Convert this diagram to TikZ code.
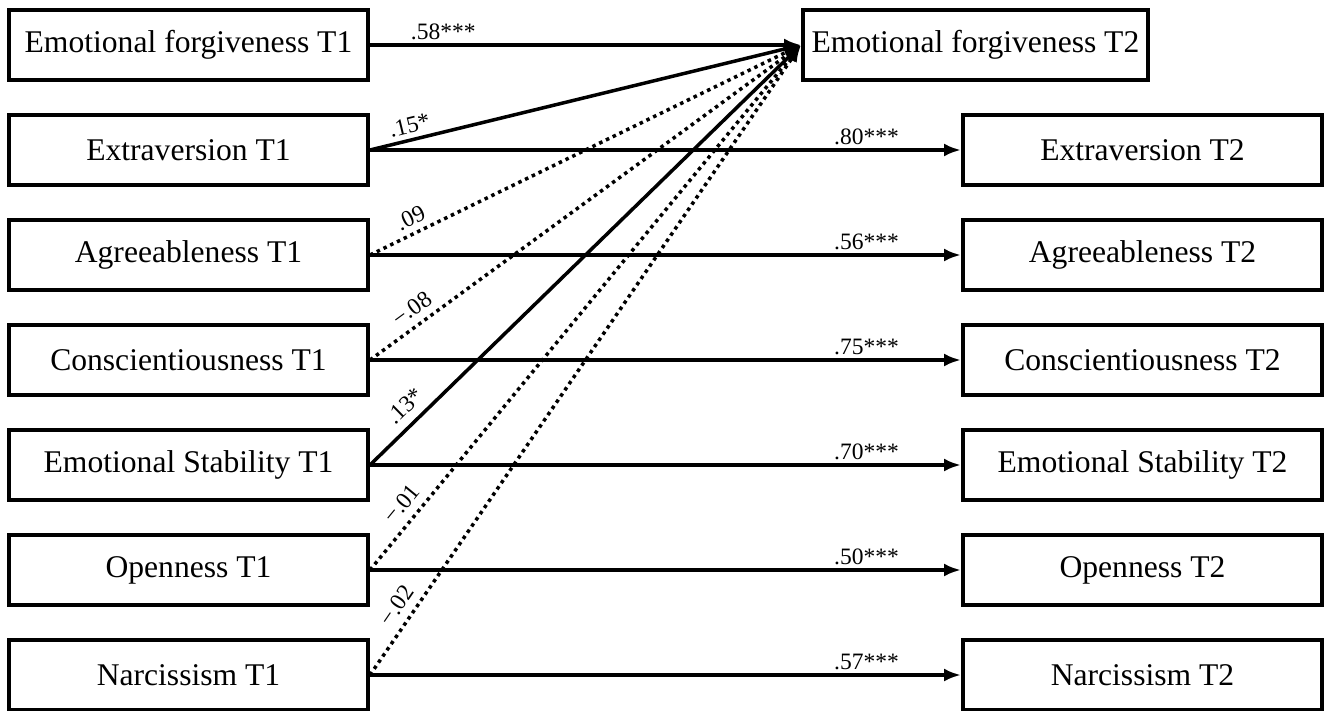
\documentclass[tikz,border=0pt]{standalone}
\usepackage{fontspec}
\setmainfont{Liberation Serif}
\usetikzlibrary{arrows.meta}
\begin{document}
\begin{tikzpicture}[x=1pt,y=-1pt,
  box/.style={draw,line width=4pt,minimum width=359pt,minimum height=70pt,inner sep=0pt,font=\fontsize{31.6}{36}\selectfont},
  path/.style={line width=3.5pt,-{Latex[length=17pt,width=13pt]}},
  ns/.style={line width=3.5pt,dash pattern=on 3.5pt off 4pt,-{Latex[length=17pt,width=13pt]}},
  lab/.style={font=\fontsize{23.5}{26}\selectfont,inner sep=3pt}]
\useasboundingbox (0,0) rectangle (1325,711);
\node[box] (ef1) at (188.5,45) {Emotional forgiveness T1};
\node[box] (ex1) at (188.5,150) {Extraversion T1};
\node[box] (ag1) at (188.5,255) {Agreeableness T1};
\node[box] (co1) at (188.5,360) {Conscientiousness T1};
\node[box] (es1) at (188.5,465) {Emotional Stability T1};
\node[box] (op1) at (188.5,570) {Openness T1};
\node[box] (na1) at (188.5,675) {Narcissism T1};
\node[box,minimum width=345pt] (ef2) at (975.5,45) {Emotional forgiveness T2};
\node[box] (ex2) at (1142.5,150) {Extraversion T2};
\node[box] (ag2) at (1142.5,255) {Agreeableness T2};
\node[box] (co2) at (1142.5,360) {Conscientiousness T2};
\node[box] (es2) at (1142.5,465) {Emotional Stability T2};
\node[box] (op2) at (1142.5,570) {Openness T2};
\node[box] (na2) at (1142.5,675) {Narcissism T2};
% autoregressive paths
\draw[path] (ef1) -- node[lab,pos=0.17,above] {.58***} (ef2);
\draw[path] (ex1) -- node[lab,pos=0.84,above] {.80***} (ex2);
\draw[path] (ag1) -- node[lab,pos=0.84,above] {.56***} (ag2);
\draw[path] (co1) -- node[lab,pos=0.84,above] {.75***} (co2);
\draw[path] (es1) -- node[lab,pos=0.84,above] {.70***} (es2);
\draw[path] (op1) -- node[lab,pos=0.84,above] {.50***} (op2);
\draw[path] (na1) -- node[lab,pos=0.84,above] {.57***} (na2);
% cross-lagged paths
\draw[path] (ex1.east) -- node[lab,pos=0.1,above=2pt,sloped] {.15*} (ef2.west);
\draw[ns] (ag1.east) -- node[lab,pos=0.11,above=3pt,sloped] {.09} (ef2.west);
\draw[ns] (co1.east) -- node[lab,pos=0.12,above=4pt,sloped] {−.08} (ef2.west);
\draw[path] (es1.east) -- node[lab,pos=0.11,above=5pt,sloped] {.13*} (ef2.west);
\draw[ns] (op1.east) -- node[lab,pos=0.105,above=5pt,sloped] {−.01} (ef2.west);
\draw[ns] (na1.east) -- node[lab,pos=0.095,above=5pt,sloped] {−.02} (ef2.west);
\end{tikzpicture}
\end{document}
